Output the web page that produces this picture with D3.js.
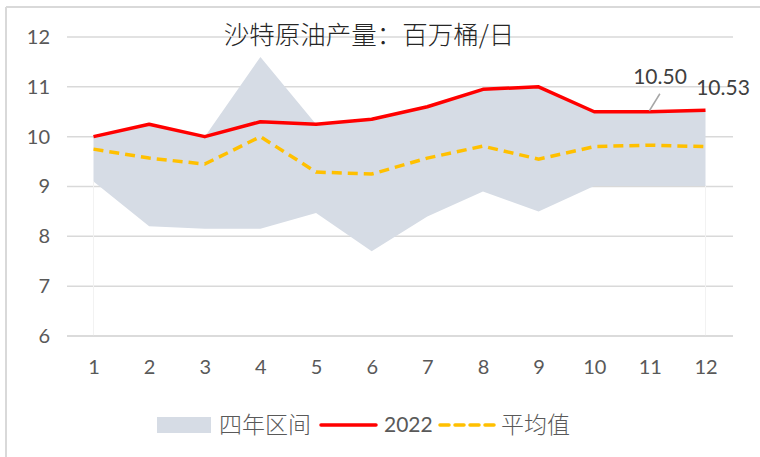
<!DOCTYPE html>
<html><head><meta charset="utf-8">
<script src="https://cdn.jsdelivr.net/npm/d3@7"></script>
<style>body{margin:0;background:#fff;} svg{display:block;}</style>
</head><body>
<script>
const months = [1,2,3,4,5,6,7,8,9,10,11,12];
const rangeUpper = [10.0,10.25,10.0,11.6,10.25,10.35,10.6,10.95,11.0,10.5,10.5,10.53];
const rangeLower = [9.1,8.2,8.15,8.15,8.47,7.7,8.4,8.9,8.5,9.01,9.01,9.01];
const series2022 = [10.0,10.25,10.0,10.3,10.25,10.35,10.6,10.95,11.0,10.5,10.5,10.53];
const average = [9.75,9.57,9.45,10.0,9.29,9.25,9.57,9.81,9.55,9.8,9.83,9.8];
const yTicks = [6,7,8,9,10,11,12];
const titleText = "沙特原油产量：百万桶/日";
const legendLabels = ["四年区间","2022","平均值"];

const W=760,H=457;
const svg=d3.select("body").append("svg").attr("width",W).attr("height",H);
// frame (cropped)
svg.append("line").attr("x1",6).attr("x2",6).attr("y1",7).attr("y2",H).attr("stroke","#d9d9d9").attr("stroke-width",2);
svg.append("line").attr("x1",6).attr("x2",W).attr("y1",7).attr("y2",7).attr("stroke","#d9d9d9").attr("stroke-width",2);

const x=d3.scalePoint().domain(months).range([93.5,705.5]);
const y=d3.scaleLinear().domain([6,12]).range([336,37]);
const gridL=67,gridR=733;

const tickFont="Lato, 'Noto Sans', sans-serif";
// gridlines
svg.append("g").selectAll("line").data(yTicks).join("line")
 .attr("x1",gridL).attr("x2",gridR).attr("y1",d=>y(d)).attr("y2",d=>y(d))
 .attr("stroke","#d9d9d9").attr("stroke-width",1.5);

const yAxis=svg.append("g").attr("transform",`translate(${gridL},0)`)
 .call(d3.axisLeft(y).tickValues(yTicks).tickFormat(d3.format("d")).tickSize(0).tickPadding(17));
yAxis.select(".domain").remove();
yAxis.selectAll("text").attr("font-family",tickFont).attr("font-size",20).attr("fill","#595959");

const xAxis=svg.append("g").attr("transform",`translate(0,${y(6)})`)
 .call(d3.axisBottom(x).tickSize(0).tickPadding(24));
xAxis.select(".domain").remove();
xAxis.selectAll("text").attr("font-family",tickFont).attr("font-size",20).attr("fill","#595959");

// area
const area=d3.area().x((d,i)=>x(months[i])).y0((d,i)=>y(rangeLower[i])).y1((d,i)=>y(rangeUpper[i]));
svg.append("path").datum(months).attr("d",area).attr("fill","#d6dce5");

// faint verticals
[1,12].forEach(m=>svg.append("line").attr("x1",x(m)).attr("x2",x(m)).attr("y1",y(rangeLower[m-1])).attr("y2",y(6)).attr("stroke","#f2f2f2").attr("stroke-width",1));

svg.append("line").attr("x1",gridL).attr("x2",gridR).attr("y1",y(6)).attr("y2",y(6)).attr("stroke","#d9d9d9").attr("stroke-width",1.5);

const line=d3.line().x((d,i)=>x(months[i])).y(d=>y(d));
svg.append("path").datum(average).attr("d",line).attr("fill","none")
 .attr("stroke","#ffc000").attr("stroke-width",3.5).attr("stroke-dasharray","10,6");
svg.append("path").datum(series2022).attr("d",line).attr("fill","none")
 .attr("stroke","#ff0000").attr("stroke-width",3.5).attr("stroke-linejoin","round");

// data labels
svg.append("line").attr("x1",x(11)-0.5).attr("y1",y(series2022[10])-1).attr("x2",x(11)+10).attr("y2",y(series2022[10])-18)
 .attr("stroke","#a6a6a6").attr("stroke-width",1.5);
svg.append("text").attr("x",660).attr("y",84).attr("text-anchor","middle")
 .attr("font-family",tickFont).attr("font-size",21).attr("fill","#404040").text(series2022[10].toFixed(2));
svg.append("text").attr("x",723).attr("y",95).attr("text-anchor","middle")
 .attr("font-family",tickFont).attr("font-size",21).attr("fill","#404040").text(series2022[11].toFixed(2));

// title
svg.append("text").attr("x",369).attr("y",44).attr("text-anchor","middle")
 .attr("font-family","'Noto Sans CJK SC', sans-serif").attr("font-size",25.5).attr("font-weight",300).attr("fill","#262626")
 .text(titleText);

// legend
const lg=svg.append("g");
const lf="'Noto Sans CJK SC', sans-serif";
lg.append("rect").attr("x",157).attr("y",417).attr("width",54).attr("height",16).attr("fill","#d6dce5");
lg.append("text").attr("x",219).attr("y",433).attr("font-family",lf).attr("font-size",23).attr("font-weight",300).attr("fill","#595959").text(legendLabels[0]);
lg.append("line").attr("x1",321).attr("x2",376).attr("y1",425).attr("y2",425).attr("stroke","#ff0000").attr("stroke-width",3.5).attr("stroke-linecap","round");
lg.append("text").attr("x",384).attr("y",432).attr("font-family",tickFont).attr("font-size",21).attr("fill","#595959").text(legendLabels[1]);
lg.append("line").attr("x1",440).attr("x2",495).attr("y1",425).attr("y2",425).attr("stroke","#ffc000").attr("stroke-width",3.5).attr("stroke-dasharray","9,6").attr("stroke-linecap","round");
lg.append("text").attr("x",501).attr("y",433).attr("font-family",lf).attr("font-size",23).attr("font-weight",300).attr("fill","#595959").text(legendLabels[2]);
</script>
</body></html>
